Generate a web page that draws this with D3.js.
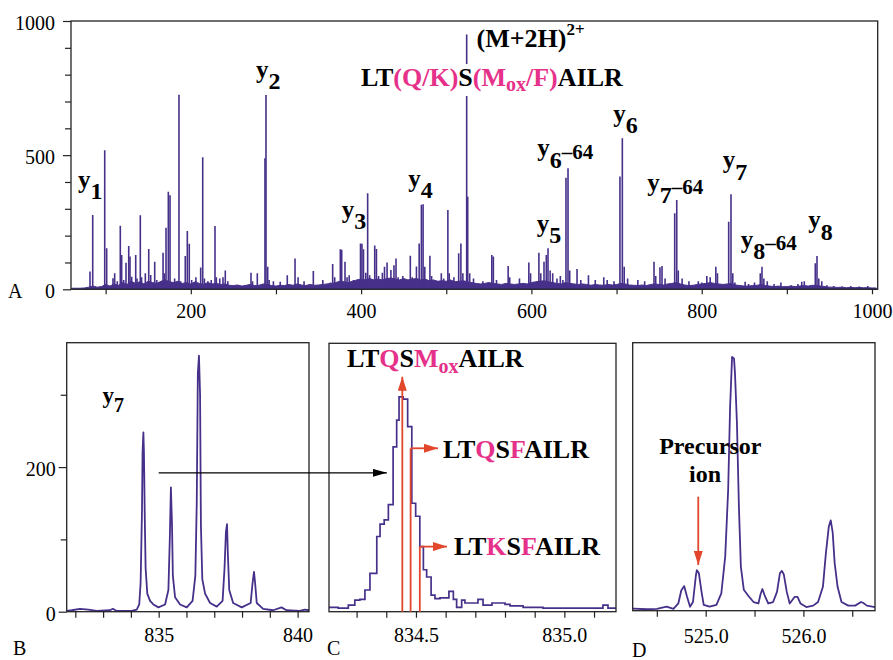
<!DOCTYPE html>
<html>
<head>
<meta charset="utf-8">
<script src="https://cdn.jsdelivr.net/npm/d3@7"></script>
<style>
  html, body { margin: 0; padding: 0; background: #fff; }
</style>
</head>
<body>
<svg id="fig" width="893" height="660"></svg>
<script>
// ================= DATA =================

// Panel A: MS/MS centroid peaks [m/z, relative intensity]
const spectrumPeaks = [
  [81.6, 66], [84.8, 277], [98.9, 518], [101.2, 153], [108.6, 41], [110.6, 60], [113.7, 30],
  [117.2, 237], [118.8, 128], [121.2, 35], [123.9, 99], [127.1, 161], [128.6, 122], [130.6, 47],
  [135.3, 128], [136.8, 40], [140.7, 276], [142.2, 45], [146.6, 60], [150.6, 150], [152.9, 53],
  [157.6, 103], [160.0, 35], [167.4, 136], [169.0, 60], [170.9, 229], [173.6, 364], [175.6, 351],
  [181.0, 40], [186.1, 725], [188.0, 30], [193.5, 124], [195.9, 217], [198.2, 170], [201.0, 35],
  [206.0, 45], [211.6, 81], [214.0, 492], [216.0, 40], [220.0, 30], [224.0, 35], [228.4, 236],
  [230.0, 45], [234.0, 40], [237.8, 45], [240.5, 70], [243.5, 30],
  [270.7, 62], [272.5, 30], [278.1, 60], [287.1, 488], [288.3, 724], [290.3, 84], [292.0, 35],
  [297.0, 30], [305.0, 28], [313.3, 52], [322.4, 115], [326.0, 45], [333.0, 30], [343.9, 68],
  [355.0, 35], [364.0, 25], [366.6, 94], [369.0, 45], [375.6, 149], [377.2, 147], [381.1, 103],
  [383.5, 45], [386.0, 52], [391.0, 35], [399.3, 171], [401.0, 170], [402.8, 149], [405.5, 62],
  [407.7, 358], [410.0, 52], [416.0, 163], [418.0, 150], [420.5, 50], [425.0, 62], [427.5, 84],
  [430.5, 100], [435.0, 72], [438.6, 90], [441.0, 115], [443.5, 45], [449.0, 50], [457.8, 125],
  [460.0, 45], [465.0, 85], [468.2, 171], [470.8, 315], [472.8, 317], [474.8, 84], [480.8, 125],
  [482.8, 50], [489.0, 30], [494.2, 60], [497.0, 40], [501.9, 296], [503.5, 60], [509.0, 45],
  [514.6, 134], [517.2, 171], [519.5, 60], [524.0, 950], [525.2, 345], [527.5, 60], [532.0, 40],
  [543.0, 30], [553.5, 128], [555.3, 122], [559.0, 35], [572.7, 87], [574.5, 45], [586.0, 40],
  [597.0, 100], [599.0, 60], [608.8, 136], [611.0, 60], [614.8, 103], [617.5, 128], [619.5, 153],
  [622.0, 70], [625.0, 60], [630.0, 40], [634.0, 50], [637.0, 35], [640.6, 416], [643.0, 451],
  [645.0, 70], [653.6, 76], [658.0, 35], [667.0, 52], [675.0, 35], [685.0, 45], [689.0, 35],
  [697.0, 30], [704.0, 420], [706.8, 563], [709.0, 84], [713.0, 40], [725.0, 35], [733.0, 30],
  [744.0, 103], [746.0, 50], [751.0, 82], [753.4, 87], [757.0, 40], [768.3, 283], [770.7, 333],
  [772.5, 70], [777.0, 40], [785.0, 30], [796.0, 30], [800.0, 25], [806.0, 50], [810.0, 45],
  [816.6, 84], [818.5, 60], [831.7, 252], [834.4, 354], [836.5, 60], [839.0, 25], [851.0, 28],
  [855.0, 20], [862.0, 25], [868.8, 60], [870.8, 84], [873.0, 40], [877.0, 30], [885.0, 20],
  [893.0, 25], [905.0, 15], [913.0, 20], [917.5, 28], [920.5, 30], [933.4, 97], [935.4, 124],
  [937.5, 40], [941.0, 30], [947.0, 15], [955.0, 12], [965.0, 10], [975.0, 12], [985.0, 10],
  [995.0, 12]
];

// Panel A: chemical-noise floor sampled every 5 m/z from m/z 60
const noiseStart = 60;
const noiseStep = 5;
const noiseLevels = [
  4, 4, 4, 5, 8, 12, 8, 10,
  18, 12, 20, 15, 25, 18, 30, 22, 28, 20, 30, 25, 22, 30, 35, 28, 25, 30, 22, 25,
  20, 28, 22, 18, 25, 20, 22, 18, 20, 15, 14, 16, 12, 15, 18, 14, 15, 20, 18, 14,
  12, 15, 14, 18, 15, 20, 16, 14, 18, 15, 16, 18, 20, 22, 25, 30, 28, 25, 30, 35,
  38, 35, 40, 35, 38, 35, 40, 42, 38, 35, 40, 35, 38, 40, 35, 38, 32, 35, 30, 32,
  30, 35, 28, 30, 32, 28, 25, 22, 20, 22, 25, 22, 20, 18, 22, 20, 18, 20, 22, 20,
  25, 28, 30, 32, 28, 25, 22, 20, 25, 22, 20, 18, 20, 18, 15, 18, 16, 15, 18, 16,
  18, 22, 20, 16, 15, 14, 16, 14, 18, 20, 18, 16, 20, 22, 25, 20, 16, 14, 15, 18,
  20, 22, 25, 22, 20, 18, 20, 22, 16, 14, 12, 12, 14, 15, 18, 14, 12, 10, 12, 10,
  10, 12, 10, 12, 14, 12, 15, 14, 12, 10, 8, 8, 7, 8, 6, 7, 6, 7, 6, 6, 5, 5
];

const fullYTicks = [0, 100, 200, 300, 400, 500, 600, 700, 800, 900, 1000];
const fullYLabels = [0, 500, 1000];
const fullXTicks = [100, 200, 300, 400, 500, 600, 700, 800, 900, 1000];
const fullXLabels = [200, 400, 600, 800, 1000];

// Fragment ion annotations: ion number and neutral loss
const ionNames  = ["1", "2", "3", "4", "5", "6", "6", "7", "7", "8", "8"];
const ionLosses = ["", "", "", "", "", "", "64", "", "64", "", "64"];

// Panel B: y7 isotope cluster profile [m/z, intensity]
const y7Profile = [
  [831.69, 1], [831.87, 2], [832.17, 4], [832.47, 3], [832.77, 1], [833.25, 2], [833.35, 4],
  [833.49, 1], [834.03, 1], [834.21, 3], [834.30, 10], [834.35, 40], [834.40, 140], [834.42, 220],
  [834.45, 248], [834.47, 220], [834.50, 130], [834.53, 60], [834.59, 25], [834.69, 15],
  [834.81, 10], [834.99, 6], [835.23, 10], [835.35, 30], [835.40, 100], [835.44, 172],
  [835.48, 120], [835.51, 50], [835.59, 20], [835.77, 10], [836.01, 6], [836.22, 15],
  [836.32, 50], [836.37, 150], [836.41, 330], [836.45, 354], [836.49, 300], [836.52, 120],
  [836.57, 45], [836.67, 25], [836.85, 12], [837.09, 7], [837.30, 15], [837.37, 60],
  [837.42, 110], [837.46, 121], [837.49, 80], [837.54, 30], [837.68, 12], [837.99, 6],
  [838.31, 12], [838.38, 40], [838.43, 55], [838.47, 40], [838.53, 12], [838.76, 4],
  [839.12, 2], [839.42, 6], [839.60, 2], [840.08, 1], [840.26, 3], [840.41, 2]
];
const bYTicks = [0, 100, 200, 300];
const bYLabels = [0, 200];
const bXTicks = [832, 833, 834, 835, 836, 837, 838, 839, 840];
const bXLabels = [835, 840];

// Panel C: high-resolution scan of the first y7 isotope, one value per sampling step
const y7FineScan = [
  [834.204, 6], [834.238, 5], [834.272, 9], [834.294, 16], [834.311, 17], [834.328, 30],
  [834.345, 53], [834.368, 104], [834.379, 121], [834.393, 127], [834.407, 148], [834.423, 228],
  [834.435, 265], [834.443, 297], [834.457, 294], [834.472, 256], [834.486, 150], [834.499, 132],
  [834.513, 90], [834.525, 58], [834.536, 48], [834.551, 23], [834.564, 18], [834.581, 19],
  [834.611, 28], [834.626, 17], [834.637, 6], [834.654, 16], [834.665, 12], [834.682, 12],
  [834.709, 17], [834.726, 9], [834.756, 12], [834.800, 10], [834.817, 8], [834.861, 6],
  [834.928, 5], [834.995, 5], [835.063, 5], [835.130, 9], [835.147, 5], [835.174, 5]
];
// Theoretical y7 masses of the candidate sequences
const candidateMz = [834.454, 834.482, 834.513];
const candidateMarker = [325, 226, 90];
const candidateSeqs = [
  [["LT", "k"], ["Q", "p"], ["S", "k"], ["M", "p"], ["ox", "p", "sub"], ["AILR", "k"]],
  [["LT", "k"], ["Q", "p"], ["S", "k"], ["F", "p"], ["AILR", "k"]],
  [["LT", "k"], ["K", "p"], ["S", "k"], ["F", "p"], ["AILR", "k"]]
];
const cXTicks = [834.3, 834.4, 834.5, 834.6, 834.7, 834.8, 834.9, 835.0, 835.1];
const cXLabels = [834.5, 835.0];

// Panel D: precursor region profile [m/z, intensity]
const precursorProfile = [
  [524.253, 3], [524.26, 3], [524.40, 2], [524.50, 2.5], [524.60, 5.5], [524.67, 2.5],
  [524.72, 10], [524.75, 28], [524.78, 34], [524.81, 19], [524.84, 5.5], [524.87, 12],
  [524.90, 49], [524.91, 56], [524.93, 52], [524.96, 24], [524.98, 8], [525.04, 5.5],
  [525.11, 8], [525.16, 24], [525.20, 75], [525.23, 167], [525.25, 282], [525.27, 351],
  [525.29, 349], [525.30, 328], [525.32, 259], [525.34, 144], [525.36, 61], [525.39, 29],
  [525.44, 20], [525.49, 12], [525.54, 10], [525.56, 22], [525.58, 30], [525.61, 19],
  [525.64, 10], [525.69, 12], [525.73, 26], [525.76, 52], [525.78, 55], [525.80, 50],
  [525.83, 26], [525.86, 10], [525.91, 19], [525.94, 19], [525.97, 10], [526.03, 5],
  [526.10, 7], [526.15, 12], [526.20, 33], [526.23, 79], [526.26, 116], [526.28, 125],
  [526.30, 108], [526.32, 66], [526.35, 33], [526.39, 12], [526.46, 7], [526.53, 7],
  [526.59, 12], [526.61, 11], [526.65, 7], [526.733, 5]
];
const precursorMz = 524.924;
const dXTicks = [524.5, 525.0, 525.5, 526.0, 526.5];
const dXLabels = [525.0, 526.0];

// ================= DRAWING =================
const SERIF = "Liberation Serif";
const PURPLE = "#46308a";
const PINK = "#e6318a";
const RED = "#e2472c";
const FRAME = "#222";
const colorOf = c => (c === "p" ? PINK : "#000");

const svg = d3.select("#fig").style("font-family", SERIF);
const defs = svg.append("defs");

function arrowMarker(id, color, w, h) {
  defs.append("marker")
    .attr("id", id).attr("viewBox", `0 0 ${w} ${h}`)
    .attr("refX", w).attr("refY", h / 2)
    .attr("markerWidth", w).attr("markerHeight", h)
    .attr("markerUnits", "userSpaceOnUse")
    .attr("orient", "auto")
    .append("path").attr("d", `M0,0 L${w},${h / 2} L0,${h} Z`).attr("fill", color);
}
arrowMarker("arRed", RED, 14, 9);
arrowMarker("arBlack", "#000", 14, 8);

const isLabelled = (labelled, d) => labelled.some(l => Math.abs(l - d) < 1e-9);

// Styled axis: minor ticks shorter, labels only on chosen values
function drawAxis(g, axis, labelled, major, minor, fmt, vertical) {
  g.call(axis.tickSizeOuter(0).tickSize(minor).tickFormat(d => isLabelled(labelled, d) ? fmt(d) : ""));
  g.attr("font-family", null).attr("font-size", null);
  g.select(".domain").remove();
  g.selectAll(".tick line").attr("stroke", FRAME).attr("stroke-width", 1.2);
  g.selectAll(".tick text").attr("fill", "#000").attr("font-size", 20).style("font-family", SERIF);
  if (vertical) g.selectAll(".tick text").attr("dy", "0.42em");
  g.selectAll(".tick").filter(d => isLabelled(labelled, d)).select("line")
    .attr(vertical ? "x2" : "y2", vertical ? -major : major);
}

function frame(x0, y0, x1, y1) {
  svg.append("rect").attr("x", x0).attr("y", y0).attr("width", x1 - x0).attr("height", y1 - y0)
    .attr("fill", "none").attr("stroke", FRAME).attr("stroke-width", 1.3);
}

function clip(id, x0, y0, x1, y1) {
  defs.append("clipPath").attr("id", id).append("rect")
    .attr("x", x0).attr("y", y0).attr("width", x1 - x0).attr("height", y1 - y0);
}

// Bold rich text built from [text, colour, role] parts
function rich(g, x, y, parts, size, subSize, subShift) {
  const t = g.append("text").attr("x", x).attr("y", y).attr("font-weight", "bold")
    .attr("font-size", size).style("font-family", SERIF);
  let cur = 0;
  parts.forEach(p => {
    const shift = p[2] === "sub" ? subShift : 0;
    t.append("tspan").attr("dy", shift - cur).attr("font-size", p[2] === "sub" ? subSize : size)
      .attr("fill", colorOf(p[1])).text(p[0]);
    cur = shift;
  });
  return t;
}

// ---------- Panel A ----------
const A = { x0: 71, x1: 877.7, y0: 21, y1: 289.3 };
const xA = d3.scaleLinear().domain([59.3, 1006.7]).range([A.x0, A.x1]);
const yA = d3.scaleLinear().domain([0, 1000]).range([A.y1, A.y0]);
clip("clipA", A.x0, A.y0, A.x1, A.y1);

const gA = svg.append("g").attr("clip-path", "url(#clipA)");
const noisePts = noiseLevels.map((v, i) => [noiseStart + i * noiseStep, v]);
gA.append("path").datum(noisePts)
  .attr("d", d3.area().x(d => xA(d[0])).y0(yA(0)).y1(d => yA(d[1])))
  .attr("fill", PURPLE).attr("stroke", PURPLE).attr("stroke-width", 1);
gA.selectAll("line.pk").data(spectrumPeaks).join("line").attr("class", "pk")
  .attr("x1", d => xA(d[0])).attr("x2", d => xA(d[0]))
  .attr("y1", yA(0)).attr("y2", d => yA(d[1]))
  .attr("stroke", PURPLE).attr("stroke-width", 1.6);

frame(A.x0, A.y0, A.x1, A.y1);
drawAxis(svg.append("g").attr("transform", `translate(${A.x0},0)`),
  d3.axisLeft(yA).tickValues(fullYTicks).tickPadding(10), fullYLabels, 8, 6, d => d, true);
drawAxis(svg.append("g").attr("transform", `translate(0,${A.y1})`),
  d3.axisBottom(xA).tickValues(fullXTicks).tickPadding(10), fullXLabels, 5, 5, d => d, false);

// Fragment labels
const gLab = svg.append("g");
const ionAnchors = [[67.5, 378], [276.6, 789], [377.2, 266], [455.4, 383], [606.2, 215],
  [696.2, 625], [606.9, 495], [824.7, 452], [736.1, 365], [925.2, 228], [845.8, 154]];
ionNames.forEach((n, i) => {
  const t = gLab.append("text").attr("x", xA(ionAnchors[i][0])).attr("y", yA(ionAnchors[i][1]))
    .attr("font-weight", "bold").attr("fill", "#000").style("font-family", SERIF);
  t.append("tspan").attr("font-size", 25).text("y");
  t.append("tspan").attr("font-size", 24).attr("dy", 11.5).text(n);
  if (ionLosses[i]) t.append("tspan").attr("font-size", 21).attr("dy", -9).text("\u2013" + ionLosses[i]);
});

// Precursor label
const prec = gLab.append("text").attr("x", 476.5).attr("y", 46.5).attr("font-weight", "bold")
  .attr("font-size", 26).style("font-family", SERIF);
prec.append("tspan").text("(M+2H)");
prec.append("tspan").attr("font-size", 17).attr("dy", -12).text("2+");

// Ambiguous sequence label with white backing
const seqG = gLab.append("g");
const seqParts = [["LT", "k"], ["(Q/K)", "p"], ["S", "k"], ["(M", "p"], ["ox", "p", "sub"], ["/F)", "p"], ["AILR", "k"]];
const seqT = rich(seqG, 361, 86, seqParts, 26, 20, 5);
const bb = seqT.node().getBBox();
seqG.insert("rect", "text").attr("x", bb.x - 2).attr("y", bb.y + 1).attr("width", bb.width + 4).attr("height", bb.height)
  .attr("fill", "#fff");

// ---------- Panel B ----------
const B = { x0: 66.7, x1: 309, y0: 342.7, y1: 611.7 };
const xB = d3.scaleLinear().domain([831.69, 840.41]).range([B.x0, B.x1]);
const yB = d3.scaleLinear().domain([0, 372]).range([B.y1, B.y0]);
clip("clipB", B.x0, B.y0, B.x1, B.y1);
svg.append("g").attr("clip-path", "url(#clipB)").append("path").datum(y7Profile)
  .attr("d", d3.line().x(d => xB(d[0])).y(d => yB(d[1])))
  .attr("fill", "none").attr("stroke", PURPLE).attr("stroke-width", 1.8).attr("stroke-linejoin", "round");
frame(B.x0, B.y0, B.x1, B.y1);
drawAxis(svg.append("g").attr("transform", `translate(${B.x0},0)`),
  d3.axisLeft(yB).tickValues(bYTicks).tickPadding(5), bYLabels, 8, 6, d => d, true);
drawAxis(svg.append("g").attr("transform", `translate(0,${B.y1})`),
  d3.axisBottom(xB).tickValues(bXTicks).tickPadding(10), bXLabels, 6, 6, d => d, false);
const y7t = svg.append("text").attr("x", 102.5).attr("y", 402.5).attr("font-weight", "bold").style("font-family", SERIF);
y7t.append("tspan").attr("font-size", 23).text("y");
y7t.append("tspan").attr("font-size", 20).attr("dy", 9).text("7");

// ---------- Panel C ----------
const C = { x0: 329, x1: 616, y0: 343.3, y1: 611.7 };
const xC = d3.scaleLinear().domain([834.207, 835.174]).range([C.x0, C.x1]);
const yC = d3.scaleLinear().domain([0, 371.2]).range([C.y1, C.y0]);
clip("clipC", C.x0, C.y0, C.x1, C.y1);
const gC = svg.append("g").attr("clip-path", "url(#clipC)");
gC.append("path").datum(y7FineScan)
  .attr("d", d3.line().curve(d3.curveStepAfter).x(d => xC(d[0])).y(d => yC(d[1])))
  .attr("fill", "none").attr("stroke", PURPLE).attr("stroke-width", 1.7);
frame(C.x0, C.y0, C.x1, C.y1);
drawAxis(svg.append("g").attr("transform", `translate(0,${C.y1})`),
  d3.axisBottom(xC).tickValues(cXTicks).tickPadding(10), cXLabels, 6, 6, d3.format(".1f"), false);

// candidate stems
candidateMz.forEach((m, i) => {
  svg.append("line").attr("x1", xC(m)).attr("x2", xC(m)).attr("y1", yC(0)).attr("y2", yC(candidateMarker[i]))
    .attr("stroke", RED).attr("stroke-width", 1.8)
    .attr("marker-end", i === 0 ? "url(#arRed)" : null);
});
// side arrows to the sequence labels
svg.append("line").attr("x1", xC(candidateMz[1])).attr("x2", 438).attr("y1", yC(candidateMarker[1])).attr("y2", yC(candidateMarker[1]))
  .attr("stroke", RED).attr("stroke-width", 1.8).attr("marker-end", "url(#arRed)");
svg.append("line").attr("x1", xC(candidateMz[2])).attr("x2", 447).attr("y1", yC(candidateMarker[2])).attr("y2", yC(candidateMarker[2]))
  .attr("stroke", RED).attr("stroke-width", 1.8).attr("marker-end", "url(#arRed)");

const gSeq = svg.append("g");
rich(gSeq, 347, 367.3, candidateSeqs[0], 26, 20, 6);
rich(gSeq, 443, 458, candidateSeqs[1], 26, 20, 6);
rich(gSeq, 454, 555, candidateSeqs[2], 26, 20, 6);

// arrow from the y7 cluster (panel B) into the zoomed scan (panel C)
svg.append("line").attr("x1", xB(835.0)).attr("x2", xC(834.402)).attr("y1", yB(192)).attr("y2", yB(192))
  .attr("stroke", "#000").attr("stroke-width", 1.2).attr("marker-end", "url(#arBlack)");

// ---------- Panel D ----------
const D = { x0: 632.7, x1: 875, y0: 342.7, y1: 610.7 };
const xD = d3.scaleLinear().domain([524.253, 526.733]).range([D.x0, D.x1]);
const yD = d3.scaleLinear().domain([0, 370.7]).range([D.y1, D.y0]);
clip("clipD", D.x0, D.y0, D.x1, D.y1);
svg.append("g").attr("clip-path", "url(#clipD)").append("path").datum(precursorProfile)
  .attr("d", d3.line().x(d => xD(d[0])).y(d => yD(d[1])))
  .attr("fill", "none").attr("stroke", PURPLE).attr("stroke-width", 1.8).attr("stroke-linejoin", "round");
frame(D.x0, D.y0, D.x1, D.y1);
drawAxis(svg.append("g").attr("transform", `translate(0,${D.y1})`),
  d3.axisBottom(xD).tickValues(dXTicks).tickPadding(12), dXLabels, 6, 6, d3.format(".1f"), false);
svg.append("line").attr("x1", xD(precursorMz)).attr("x2", xD(precursorMz)).attr("y1", yD(157.7)).attr("y2", yD(63.2))
  .attr("stroke", RED).attr("stroke-width", 1.8).attr("marker-end", "url(#arRed)");
svg.append("text").attr("x", 710.3).attr("y", 453.5).attr("text-anchor", "middle").style("font-family", SERIF)
  .attr("font-weight", "bold").attr("font-size", 24).text("Precursor");
svg.append("text").attr("x", 705).attr("y", 481.7).attr("text-anchor", "middle").style("font-family", SERIF)
  .attr("font-weight", "bold").attr("font-size", 24).text("ion");

// ---------- panel letters ----------
[["A", 8, 298], ["B", 13, 655], ["C", 327, 655], ["D", 632, 657]].forEach(([t, x, y]) => {
  svg.append("text").attr("x", x).attr("y", y).attr("font-size", 20).attr("fill", "#000")
    .style("font-family", SERIF).text(t);
});
</script>
</body>
</html>
